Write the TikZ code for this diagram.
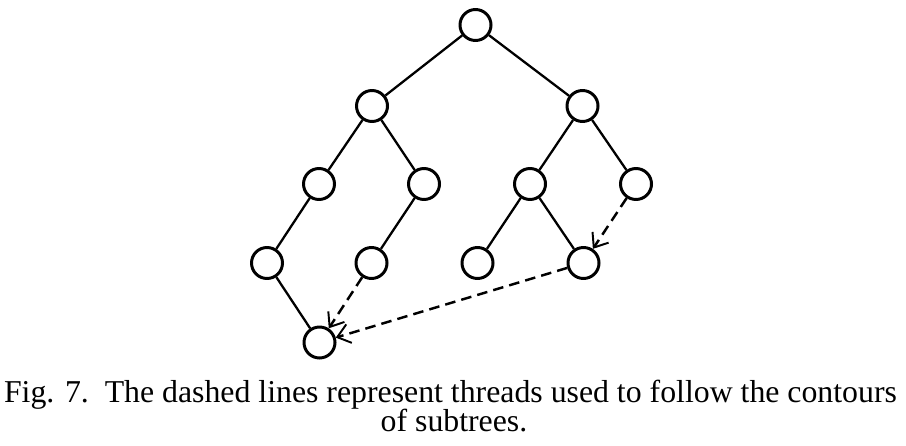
\documentclass[tikz,border=0pt]{standalone}
\usepackage{fontspec}
\setmainfont{Liberation Serif}
\usetikzlibrary{arrows.meta}
\begin{document}
\begin{tikzpicture}[x=0.02cm,y=-0.02cm,
  vert/.style={circle,draw,line width=1.7pt,inner sep=0pt,minimum size=0.62cm,fill=white},
  edge/.style={line width=1.3pt},
  thread/.style={line width=1.4pt,dash pattern=on 6pt off 3.5pt,-{Straight Barb[length=7pt,width=11pt,line width=1.1pt]}},
  captext/.style={font=\fontsize{18.1}{13}\selectfont,inner sep=0pt,anchor=base}]
\useasboundingbox (0,0) rectangle (906,446);
\node[vert] (r) at (475.5,25) {};
\node[vert] (a) at (372,106) {};
\node[vert] (b) at (582.5,106) {};
\node[vert] (aa) at (319,184) {};
\node[vert] (ab) at (424,184) {};
\node[vert] (ba) at (530,184) {};
\node[vert] (bb) at (636,184) {};
\node[vert] (aaa) at (267,263) {};
\node[vert] (aba) at (371.5,263) {};
\node[vert] (baa) at (477.5,263) {};
\node[vert] (bab) at (583.5,263) {};
\node[vert] (aaab) at (319.5,342.5) {};
\draw[edge] (r) -- (a);
\draw[edge] (r) -- (b);
\draw[edge] (a) -- (aa);
\draw[edge] (a) -- (ab);
\draw[edge] (b) -- (ba);
\draw[edge] (b) -- (bb);
\draw[edge] (aa) -- (aaa);
\draw[edge] (ab) -- (aba);
\draw[edge] (ba) -- (baa);
\draw[edge] (ba) -- (bab);
\draw[edge] (aaa) -- (aaab);
\draw[thread] (aba) -- (aaab);
\draw[thread] (bb) -- (bab);
\draw[thread] (bab) -- (aaab);
\node[captext] (c1) at (450.5,402) {Fig. 7.\ \ The dashed lines represent threads used to follow the contours};
\node[captext] (c2) at (454,431) {of subtrees.};
\end{tikzpicture}
\end{document}
